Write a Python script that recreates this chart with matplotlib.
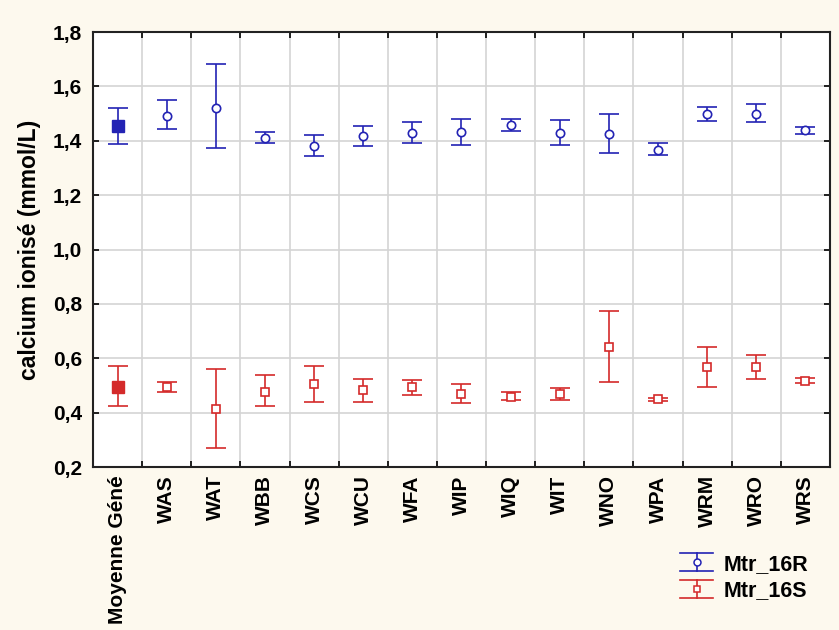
import matplotlib

matplotlib.use("Agg")
import matplotlib.pyplot as plt
import numpy as np
from matplotlib.legend_handler import HandlerBase
from matplotlib.lines import Line2D
from matplotlib.ticker import FixedLocator, FuncFormatter, MultipleLocator

# --- data ------------------------------------------------------------------
categories = ["Moyenne Géné", "WAS", "WAT", "WBB", "WCS", "WCU", "WFA", "WIP",
              "WIQ", "WIT", "WNO", "WPA", "WRM", "WRO", "WRS"]

r_mean = [1.454, 1.492, 1.522, 1.409, 1.380, 1.419, 1.430, 1.433,
          1.458, 1.430, 1.424, 1.366, 1.498, 1.498, 1.440]
r_low = [1.387, 1.442, 1.372, 1.391, 1.343, 1.381, 1.391, 1.386,
         1.436, 1.386, 1.356, 1.347, 1.474, 1.470, 1.426]
r_high = [1.519, 1.550, 1.682, 1.431, 1.421, 1.455, 1.470, 1.480,
          1.480, 1.476, 1.500, 1.391, 1.524, 1.535, 1.451]

s_mean = [0.494, 0.493, 0.413, 0.477, 0.507, 0.483, 0.493, 0.469,
          0.459, 0.469, 0.640, 0.449, 0.567, 0.567, 0.518]
s_low = [0.426, 0.475, 0.269, 0.426, 0.440, 0.439, 0.465, 0.434,
         0.446, 0.447, 0.514, 0.443, 0.494, 0.524, 0.508]
s_high = [0.573, 0.514, 0.559, 0.539, 0.573, 0.525, 0.520, 0.505,
          0.476, 0.490, 0.775, 0.455, 0.643, 0.613, 0.529]

series_names = ["Mtr_16R", "Mtr_16S"]

BLUE = "#2323b4"
RED = "#d42a2a"
BG = "#fdf9ee"

plt.rcParams["font.family"] = ["Liberation Sans", "DejaVu Sans"]
plt.rcParams["font.weight"] = "bold"


class HandlerCapBar(HandlerBase):
    """Legend glyph: wide top/bottom caps, vertical stem and a small marker."""

    def create_artists(self, legend, orig_handle, xdescent, ydescent,
                       width, height, fontsize, trans):
        color = orig_handle.get_color()
        x0, x1 = -xdescent, width - xdescent
        y0, y1 = -ydescent, height - ydescent
        cx, cy = (x0 + x1) / 2, (y0 + y1) / 2
        lw = orig_handle.get_linewidth()
        arts = [
            Line2D([x0, x1], [y1, y1], color=color, lw=lw),
            Line2D([x0, x1], [y0, y0], color=color, lw=lw),
            Line2D([cx, cx], [y0, y1], color=color, lw=lw),
            Line2D([cx], [cy], marker=orig_handle.get_marker(), ms=5,
                   mfc="white", mec=color, mew=1.1, ls="none"),
        ]
        for a in arts:
            a.set_transform(trans)
        return arts


fig = plt.figure(figsize=(8.39, 6.30), dpi=100, facecolor=BG)
ax = fig.add_axes([0.1108, 0.2587, 0.8785, 0.6905])
ax.set_facecolor("white")

x = np.arange(len(categories))
for mean, low, high, color, mk in [
    (r_mean, r_low, r_high, BLUE, "o"),
    (s_mean, s_low, s_high, RED, "s"),
]:
    mean = np.array(mean)
    yerr = [mean - np.array(low), np.array(high) - mean]
    ax.errorbar(x, mean, yerr=yerr, fmt="none", ecolor=color,
                elinewidth=1.2, capsize=7, capthick=1.2, zorder=3)
    # open markers for the sites, filled square for the overall mean
    ax.plot(x[1:], mean[1:], ls="none", marker=mk, ms=6, mfc="white",
            mec=color, mew=1.2, zorder=4)
    ax.plot(x[:1], mean[:1], ls="none", marker="s", ms=9, mfc=color,
            mec=color, zorder=4)

ax.set_xlim(-0.5, len(categories) - 0.5)
ax.set_ylim(0.2, 1.8)

ax.set_xticks(x)
ax.set_xticklabels(categories, rotation=90, fontsize=15, fontweight="bold")
ax.xaxis.set_minor_locator(FixedLocator(np.arange(len(categories) + 1) - 0.5))
ax.yaxis.set_major_locator(MultipleLocator(0.2))
ax.yaxis.set_major_formatter(
    FuncFormatter(lambda v, _: f"{v:.1f}".replace(".", ",")))
for lab in ax.get_yticklabels():
    lab.set_fontsize(15)
    lab.set_fontweight("bold")

ax.tick_params(axis="x", which="major", length=0, pad=6)
ax.tick_params(axis="x", which="minor", direction="in", length=4,
               top=True, bottom=True, width=1.2)
ax.tick_params(axis="y", which="major", direction="in", length=4,
               left=True, right=True, width=1.2, pad=8)

ax.grid(axis="x", which="minor", color="#d4d4d4", lw=1.2)
ax.grid(axis="y", which="major", color="#d4d4d4", lw=1.2)
ax.set_axisbelow(True)
for sp in ax.spines.values():
    sp.set_linewidth(1.5)
    sp.set_color("#222222")

ax.set_ylabel("calcium ionisé (mmol/L)", fontsize=16.5, fontweight="bold",
              labelpad=8)

handles = [Line2D([], [], color=BLUE, marker="o", lw=1.2),
           Line2D([], [], color=RED, marker="s", lw=1.2)]
fig.legend(handles, series_names, loc="upper left",
           bbox_to_anchor=(0.8105, 0.122), frameon=False,
           prop={"size": 15.5, "weight": "bold"},
           handler_map={Line2D: HandlerCapBar()},
           handlelength=1.55, handleheight=0.93, labelspacing=0.23,
           handletextpad=0.47, borderpad=0, borderaxespad=0)

fig.savefig("out.png", dpi=100, facecolor=BG)
